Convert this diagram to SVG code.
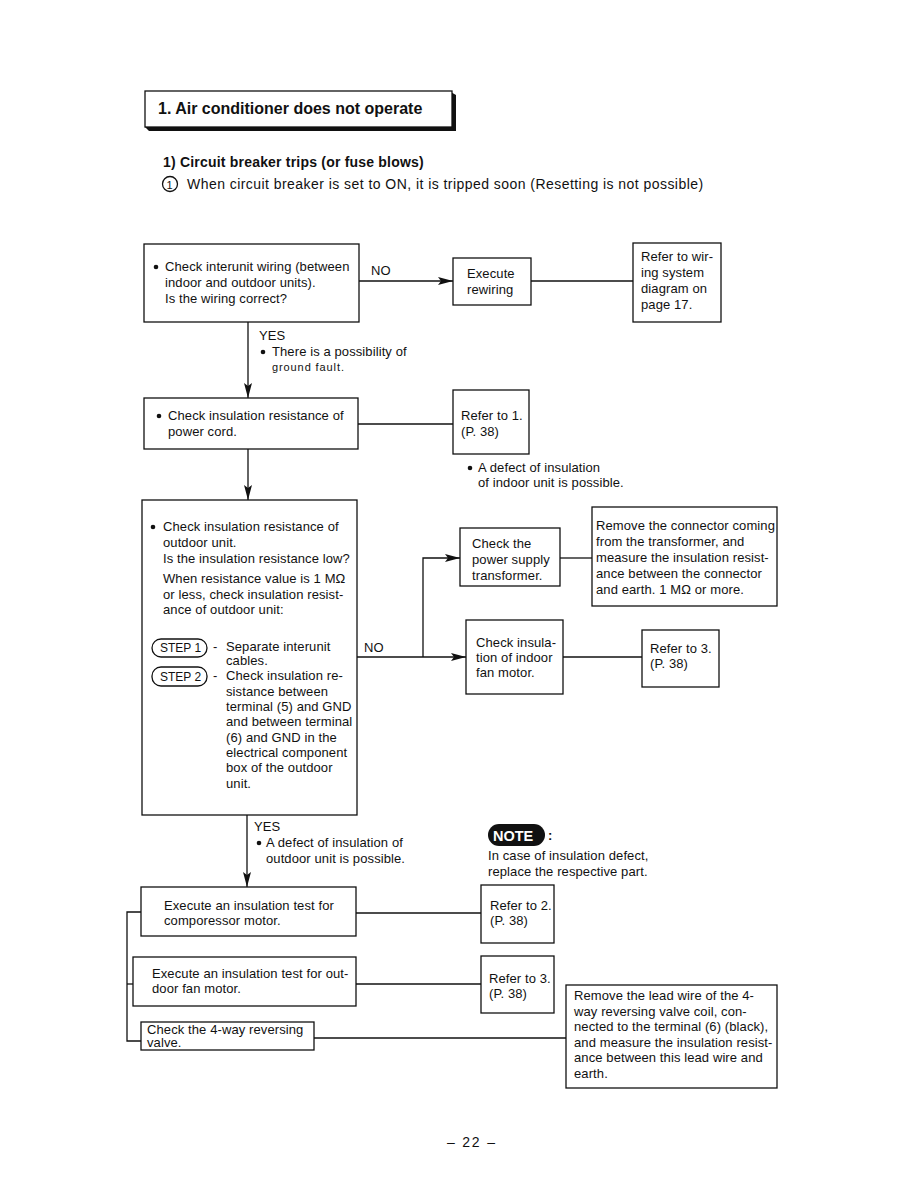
<svg xmlns="http://www.w3.org/2000/svg" width="918" height="1188" viewBox="0 0 918 1188">
<defs>
<style>
text{font-family:"Liberation Sans",Arial,sans-serif;font-size:13px;letter-spacing:0.1px;fill:#111}
.b{font-weight:bold}
.st{font-size:12px;letter-spacing:0}
.box{fill:#fff;stroke:#111;stroke-width:1.3}
.ln{fill:none;stroke:#111;stroke-width:1.3}
</style>
<marker id="ar" markerUnits="userSpaceOnUse" markerWidth="16" markerHeight="10" refX="15" refY="5" orient="auto">
<path d="M0,1 L15,5 L0,9 L3,5 Z" fill="#111"/>
</marker>
</defs>
<rect width="918" height="1188" fill="#fff"/>

<g id="title">
<polygon points="449,91 456,95 456,131 149,131 145,127 452,127 452,91" fill="#111"/>
<rect x="145" y="91" width="307" height="36" class="box"/>
<text x="158" y="114" class="b" style="font-size:16px;letter-spacing:0">1.  Air conditioner does not operate</text>
<text x="163" y="167" class="b" style="font-size:14px;letter-spacing:0.2px">1)  Circuit breaker trips (or fuse blows)</text>
<circle cx="170" cy="184" r="7.5" class="ln" stroke-width="1"/>
<text x="166.5" y="188.5" style="font-size:11px;letter-spacing:0">1</text>
<text x="187" y="189" style="font-size:14px;letter-spacing:0.45px">When circuit breaker is set to ON, it is tripped soon (Resetting is not possible)</text>
</g>

<g id="connectors">
<line x1="359" y1="281" x2="453" y2="281" class="ln" marker-end="url(#ar)"/>
<line x1="531" y1="281" x2="633" y2="281" class="ln"/>
<line x1="248" y1="322" x2="248" y2="398" class="ln" marker-end="url(#ar)"/>
<line x1="358" y1="424" x2="453" y2="424" class="ln"/>
<line x1="248" y1="449" x2="248" y2="500" class="ln" marker-end="url(#ar)"/>
<line x1="357" y1="657" x2="466" y2="657" class="ln" marker-end="url(#ar)"/>
<polyline points="423,657 423,558 460,558" class="ln" marker-end="url(#ar)"/>
<line x1="560" y1="558" x2="592" y2="558" class="ln"/>
<line x1="563" y1="657" x2="642" y2="657" class="ln"/>
<line x1="247" y1="815" x2="247" y2="887" class="ln" marker-end="url(#ar)"/>
<line x1="356" y1="913" x2="481" y2="913" class="ln"/>
<line x1="356" y1="984" x2="481" y2="984" class="ln"/>
<line x1="314" y1="1038" x2="566" y2="1038" class="ln"/>
<polyline points="141,912 127,912 127,1041 141,1041" class="ln"/>
<line x1="127" y1="984" x2="133" y2="984" class="ln"/>
<text x="371" y="275">NO</text>
<text x="259" y="340">YES</text>
<circle cx="263" cy="352" r="2.3" fill="#111"/>
<text x="272" y="356">There is a possibility of</text>
<text x="272" y="371" style="font-size:11px;letter-spacing:0.9px">ground fault.</text>
<circle cx="470" cy="468" r="2.3" fill="#111"/>
<text x="478" y="472">A defect of insulation</text>
<text x="478" y="487">of indoor unit is possible.</text>
<text x="364" y="652">NO</text>
<text x="254" y="831">YES</text>
<circle cx="259" cy="843" r="2.3" fill="#111"/>
<text x="266" y="847">A defect of insulation of</text>
<text x="266" y="863">outdoor unit is possible.</text>
</g>

<g id="n1">
<rect x="144" y="244" width="215" height="78" class="box"/>
<circle cx="156" cy="267" r="2.3" fill="#111"/>
<text x="165" y="271">Check interunit wiring (between</text>
<text x="165" y="287">indoor and outdoor units).</text>
<text x="165" y="303">Is the wiring correct?</text>
</g>
<g id="n2">
<rect x="453" y="258" width="78" height="47" class="box"/>
<text x="467" y="278">Execute</text>
<text x="467" y="294">rewiring</text>
</g>
<g id="n3">
<rect x="633" y="243" width="88" height="79" class="box"/>
<text x="641" y="261">Refer to wir-</text>
<text x="641" y="277">ing system</text>
<text x="641" y="293">diagram on</text>
<text x="641" y="309">page 17.</text>
</g>
<g id="n4">
<rect x="144" y="398" width="214" height="51" class="box"/>
<circle cx="159" cy="416" r="2.3" fill="#111"/>
<text x="168" y="420">Check insulation resistance of</text>
<text x="168" y="436">power cord.</text>
</g>
<g id="n5">
<rect x="453" y="390" width="76" height="64" class="box"/>
<text x="461" y="420">Refer to 1.</text>
<text x="461" y="436">(P. 38)</text>
</g>
<g id="n6">
<rect x="142" y="500" width="215" height="315" class="box"/>
<circle cx="153" cy="527" r="2.3" fill="#111"/>
<text x="163" y="531">Check insulation resistance of</text>
<text x="163" y="547">outdoor unit.</text>
<text x="163" y="563">Is the insulation resistance low?</text>
<text x="163" y="583">When resistance value is 1 MΩ</text>
<text x="163" y="599">or less, check insulation resist-</text>
<text x="163" y="614">ance of outdoor unit:</text>
<rect x="152" y="639" width="55" height="18" rx="9" class="ln" stroke-width="1.1"/>
<text x="160" y="652" class="st">STEP 1</text>
<text x="213" y="651">-</text>
<text x="226" y="651">Separate interunit</text>
<text x="226" y="665">cables.</text>
<rect x="152" y="667" width="55" height="19" rx="9" class="ln" stroke-width="1.1"/>
<text x="160" y="681" class="st">STEP 2</text>
<text x="213" y="680">-</text>
<text x="226" y="680">Check insulation re-</text>
<text x="226" y="696">sistance between</text>
<text x="226" y="711">terminal (5) and GND</text>
<text x="226" y="726">and between terminal</text>
<text x="226" y="742">(6) and GND in the</text>
<text x="226" y="757">electrical component</text>
<text x="226" y="772">box of the outdoor</text>
<text x="226" y="788">unit.</text>
</g>
<g id="n7">
<rect x="460" y="528" width="100" height="58" class="box"/>
<text x="472" y="548">Check the</text>
<text x="472" y="564">power supply</text>
<text x="472" y="580">transformer.</text>
</g>
<g id="n8">
<rect x="592" y="507" width="185" height="99" class="box"/>
<text x="596" y="530">Remove the connector coming</text>
<text x="596" y="546">from the transformer, and</text>
<text x="596" y="562">measure the insulation resist-</text>
<text x="596" y="578">ance between the connector</text>
<text x="596" y="594">and earth. 1 MΩ or more.</text>
</g>
<g id="n9">
<rect x="466" y="620" width="97" height="74" class="box"/>
<text x="476" y="647">Check insula-</text>
<text x="476" y="662">tion of indoor</text>
<text x="476" y="677">fan motor.</text>
</g>
<g id="n10">
<rect x="642" y="630" width="77" height="57" class="box"/>
<text x="650" y="653">Refer to 3.</text>
<text x="650" y="668">(P. 38)</text>
</g>
<g id="note">
<rect x="488" y="824" width="57" height="22" rx="11" fill="#111"/>
<text x="493" y="841" class="b" style="fill:#fff;font-size:14.5px;letter-spacing:0">NOTE</text>
<text x="548" y="840" class="b">:</text>
<text x="488" y="860">In case of insulation defect,</text>
<text x="488" y="876">replace the respective part.</text>
</g>
<g id="n11">
<rect x="141" y="887" width="215" height="49" class="box"/>
<text x="164" y="910">Execute an insulation test for</text>
<text x="164" y="925">comporessor motor.</text>
</g>
<g id="n12">
<rect x="481" y="885" width="73" height="58" class="box"/>
<text x="490" y="910">Refer to 2.</text>
<text x="490" y="925">(P. 38)</text>
</g>
<g id="n13">
<rect x="133" y="957" width="223" height="49" class="box"/>
<text x="152" y="978">Execute an insulation test for out-</text>
<text x="152" y="993">door fan motor.</text>
</g>
<g id="n14">
<rect x="481" y="956" width="73" height="57" class="box"/>
<text x="489" y="983">Refer to 3.</text>
<text x="489" y="998">(P. 38)</text>
</g>
<g id="n15">
<rect x="141" y="1022" width="173" height="28" class="box"/>
<text x="147" y="1034">Check the 4-way reversing</text>
<text x="147" y="1047">valve.</text>
</g>
<g id="n16">
<rect x="566" y="985" width="211" height="103" class="box"/>
<text x="574" y="1000">Remove the lead wire of the 4-</text>
<text x="574" y="1016">way reversing valve coil, con-</text>
<text x="574" y="1031">nected to the terminal (6) (black),</text>
<text x="574" y="1047">and measure the insulation resist-</text>
<text x="574" y="1062">ance between this lead wire and</text>
<text x="574" y="1078">earth.</text>
</g>
<text x="447" y="1147" style="font-size:14px;letter-spacing:1.8px">– 22 –</text>
</svg>
